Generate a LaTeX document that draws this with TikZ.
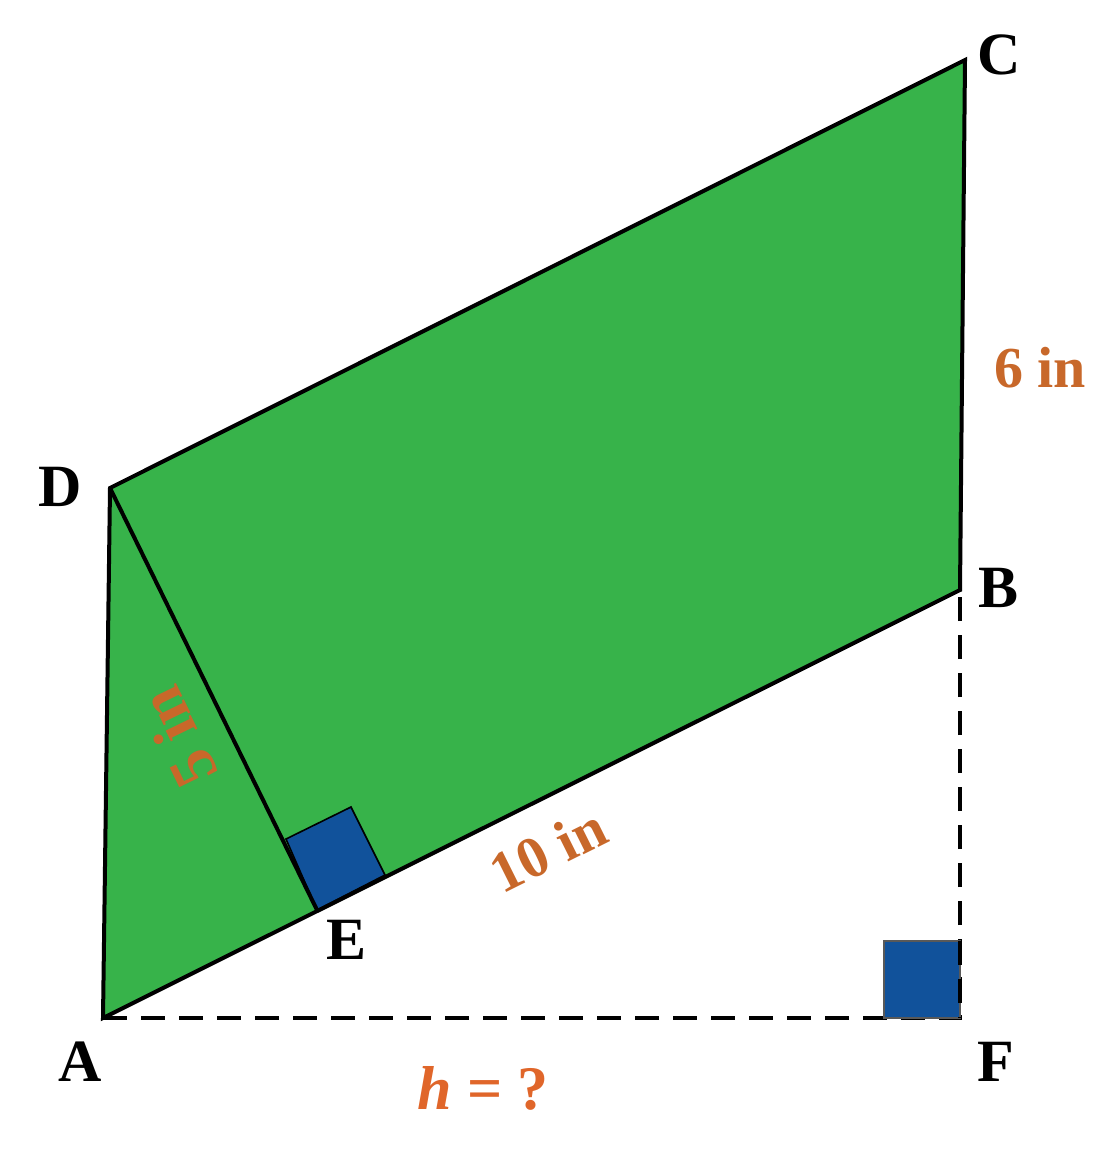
\documentclass[tikz,border=0pt]{standalone}
\usepackage{fontspec}
\setmainfont{Liberation Serif}
\definecolor{fillgreen}{HTML}{37B34A}
\definecolor{sqblue}{HTML}{11529B}
\definecolor{lblorange}{HTML}{C8682A}
\definecolor{horange}{HTML}{E0662A}
\begin{document}
\begin{tikzpicture}[x=1pt,y=-1pt,
  edge/.style={line width=4pt,line join=miter},
  dashline/.style={line width=3.2pt,dash pattern=on 24pt off 14pt},
  vlabel/.style={font=\fontsize{60}{60}\selectfont\bfseries},
  mlabel/.style={font=\fontsize{58}{58}\selectfont\bfseries,text=lblorange},
  rsq/.style={fill=sqblue,draw=black,line width=1.6pt}]
\useasboundingbox (0,0) rectangle (1110,1172);
\coordinate (A) at (103,1018);
\coordinate (B) at (960,590);
\coordinate (C) at (965,60);
\coordinate (D) at (110,488);
\coordinate (E) at (317,910);
\coordinate (F) at (960,1018);
% dashed height lines
\draw[dashline] (A) -- (F) -- (B);
% right angle at F
\draw[rsq,draw=gray!70!black,line width=1.2pt] (884,941) rectangle (960,1018);
\draw[dashline,dash phase=0pt] (960,941) -- (F);
% parallelogram
\fill[fillgreen] (A) -- (B) -- (C) -- (D) -- cycle;
% right angle at E
\draw[rsq] (E) -- (286,839) -- (351,807) -- (385,875) -- cycle;
\draw[edge] (A) -- (B) -- (C) -- (D) -- cycle;
\draw[edge] (D) -- (E);
% vertex labels
\node[vlabel] (lC) at (999,55) {C};
\node[vlabel] (lD) at (60,487) {D};
\node[vlabel] (lB) at (998,588) {B};
\node[vlabel] (lE) at (347,940) {E};
\node[vlabel] (lA) at (80,1062) {A};
\node[vlabel] (lF) at (996,1062) {F};
% measurement labels
\node[mlabel] (l6) at (1040,368) {6 in};
\node[mlabel,rotate=26.5] (l10) at (548,850) {10 in};
\node[mlabel,font=\fontsize{64}{64}\selectfont\bfseries,rotate=116] (l5) at (178,738) {5 in};
\node[font=\fontsize{62}{62}\selectfont\bfseries,text=horange] (lh) at (483,1088) {\textit{h} = ?};
\end{tikzpicture}
\end{document}
